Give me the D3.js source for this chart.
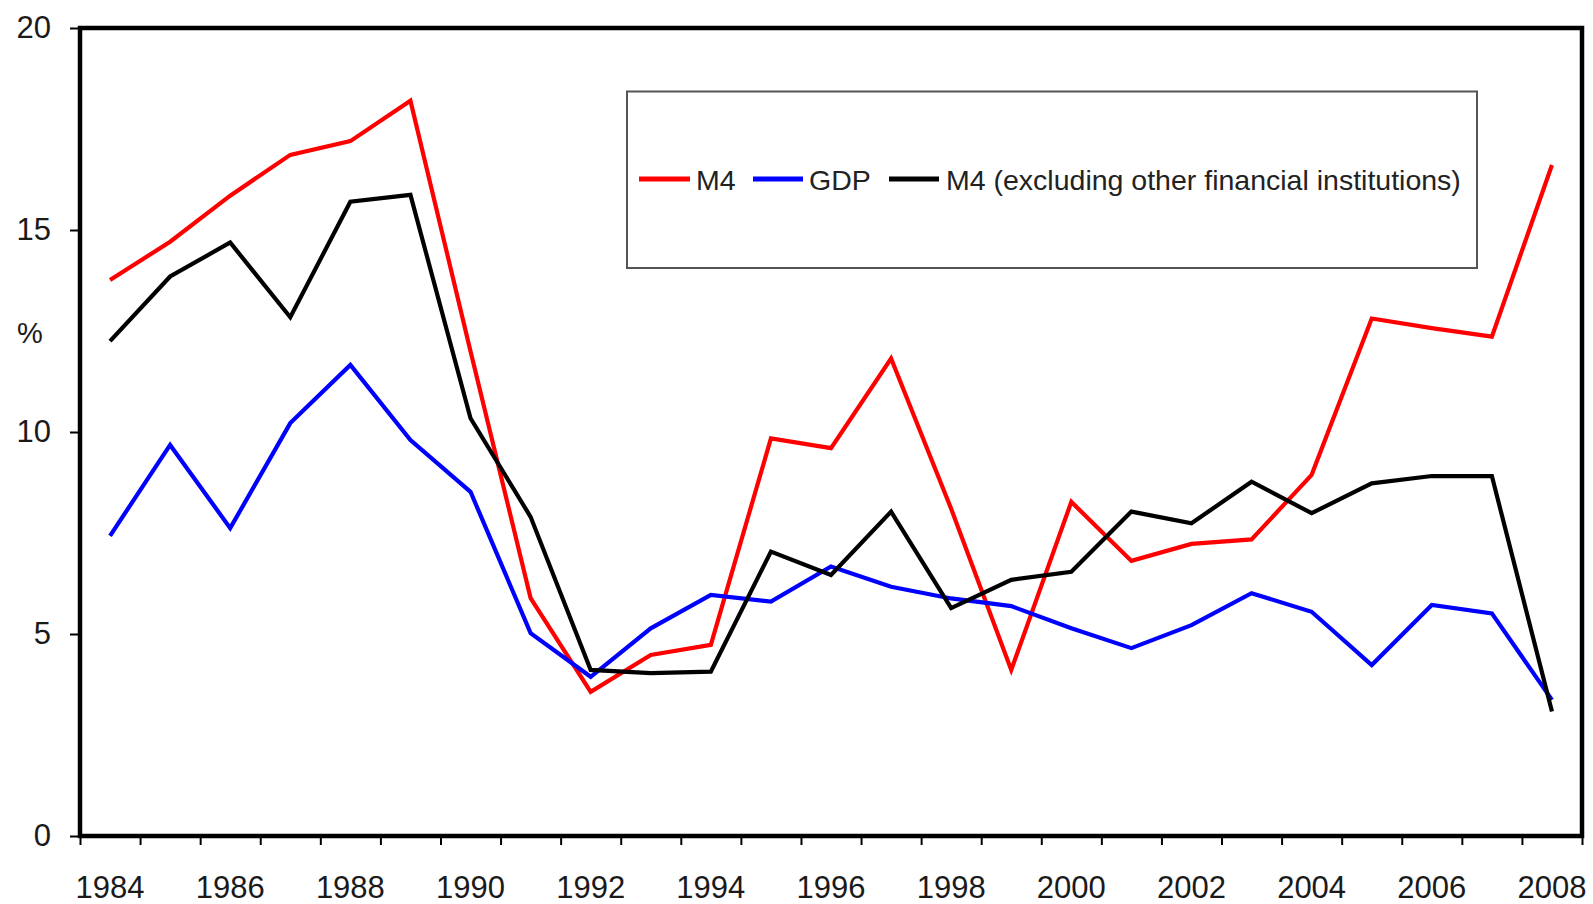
<!DOCTYPE html>
<html>
<head>
<meta charset="utf-8">
<script src="https://cdn.jsdelivr.net/npm/d3@7"></script>
<style>
  html, body { margin: 0; padding: 0; background: #fff; }
  svg { display: block; }
  text { font-family: "Liberation Sans", Arial, sans-serif; }
</style>
</head>
<body>
<svg id="chart" width="1593" height="904"></svg>
<script>
const years = [1984,1985,1986,1987,1988,1989,1990,1991,1992,1993,1994,1995,1996,1997,1998,1999,2000,2001,2002,2003,2004,2005,2006,2007,2008];
const m4 =     [13.76,14.71,15.85,16.86,17.2,18.2,12.0,5.89,3.57,4.48,4.73,9.84,9.6,11.82,8.1,4.11,8.27,6.81,7.23,7.34,8.94,12.81,12.57,12.36,16.61];
const gdp =    [7.43,9.68,7.62,10.22,11.66,9.8,8.52,5.02,3.94,5.14,5.97,5.8,6.67,6.17,5.88,5.69,5.14,4.65,5.22,6.01,5.55,4.23,5.72,5.51,3.37];
const m4ex =   [12.25,13.85,14.69,12.84,15.7,15.87,10.34,7.9,4.11,4.03,4.07,7.04,6.46,8.03,5.64,6.34,6.54,8.03,7.74,8.77,7.99,8.73,8.91,8.91,3.08];
const yTicks = [0,5,10,15,20];
const xLabelYears = [1984,1986,1988,1990,1992,1994,1996,1998,2000,2002,2004,2006,2008];
const seriesNames = ["M4","GDP","M4 (excluding other financial institutions)"];
const seriesColors = ["#ff0000","#0000ff","#000000"];
const yLabel = "%";

const svg = d3.select("#chart");
const L = 80, R = 1582, T = 28, B = 836;

const x = d3.scaleLinear().domain([years[0]-0.5, years[years.length-1]+0.5]).range([L, R]);
const y = d3.scaleLinear().domain([0, 20]).range([B, T]);

// y axis ticks
const yAxis = d3.axisLeft(y).tickValues(yTicks).tickSize(10).tickPadding(19).tickFormat(d3.format("d"));
const gy = svg.append("g").attr("transform", `translate(${L},0)`).call(yAxis);
gy.select(".domain").remove();
gy.selectAll(".tick line").attr("stroke", "#000").attr("stroke-width", 2);
gy.selectAll(".tick text").attr("font-size", 31).attr("fill", "#1a1a1a");

// x axis ticks at band boundaries
const boundaries = years.map(d => d - 0.5).concat([years[years.length-1] + 0.5]);
const xAxis = d3.axisBottom(x).tickValues(boundaries).tickSize(9).tickFormat("");
const gx = svg.append("g").attr("transform", `translate(0,${B})`).call(xAxis);
gx.select(".domain").remove();
gx.selectAll(".tick line").attr("stroke", "#000").attr("stroke-width", 2);

// x labels at band centers
svg.append("g").selectAll("text").data(xLabelYears).join("text")
  .attr("x", d => x(d))
  .attr("y", 898)
  .attr("text-anchor", "middle")
  .attr("font-size", 31)
  .attr("fill", "#1a1a1a")
  .text(d => d);

// y label
svg.append("text").attr("x", 30).attr("y", 343).attr("text-anchor", "middle")
  .attr("font-size", 29).attr("fill", "#1a1a1a").text(yLabel);

// frame
svg.append("rect").attr("x", L).attr("y", T).attr("width", R - L).attr("height", B - T)
  .attr("fill", "none").attr("stroke", "#000").attr("stroke-width", 4.5);

// legend box
svg.append("rect").attr("x", 627).attr("y", 91.5).attr("width", 850).attr("height", 176.5)
  .attr("fill", "#fff").attr("stroke", "#555").attr("stroke-width", 2);

// lines
const allSeries = [m4, gdp, m4ex];
const line = d3.line().x((d, i) => x(years[i])).y(d => y(d));
allSeries.forEach((s, k) => {
  svg.append("path").datum(s)
    .attr("d", line)
    .attr("fill", "none")
    .attr("stroke", seriesColors[k])
    .attr("stroke-width", 4.2)
    .attr("stroke-linejoin", "miter")
    .attr("stroke-linecap", "butt");
});

// legend items
const legendItems = [
  {x1: 639, x2: 690, tx: 696},
  {x1: 753, x2: 803, tx: 809},
  {x1: 889, x2: 939, tx: 946}
];
legendItems.forEach((it, k) => {
  svg.append("line").attr("x1", it.x1).attr("x2", it.x2).attr("y1", 179).attr("y2", 179)
    .attr("stroke", seriesColors[k]).attr("stroke-width", 5);
  svg.append("text").attr("x", it.tx).attr("y", 190).attr("font-size", 28.5)
    .attr("fill", "#222").text(seriesNames[k]);
});
</script>
</body>
</html>
